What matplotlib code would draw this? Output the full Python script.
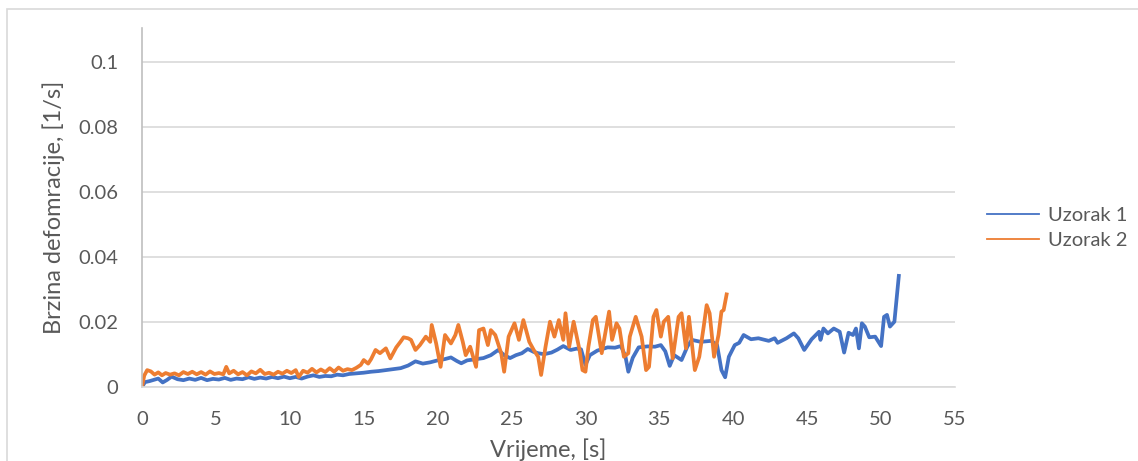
import matplotlib.pyplot as plt
from matplotlib.lines import Line2D
from matplotlib.patches import Rectangle

# ---- data ----
t1 = [0, 0.2, 0.5, 0.8, 1.1, 1.4, 1.7, 2.0, 2.4, 2.8, 3.2, 3.6, 4.0, 4.4, 4.8,
      5.2, 5.6, 6.0, 6.4, 6.8, 7.2, 7.6, 8.0, 8.4, 8.8, 9.2, 9.6, 10.0, 10.4,
      10.8, 11.2, 11.6, 12.0, 12.4, 12.8, 13.2, 13.6, 14.0, 14.5, 15.0, 15.5,
      16.0, 16.5, 17.0, 17.5, 18.0, 18.5, 19.0, 19.5, 20.0, 20.5, 20.9, 21.3,
      21.6, 22.0, 22.5, 23.1, 23.6, 24.1, 24.5, 24.9, 25.3, 25.7, 26.1, 26.5,
      26.8, 27.2, 27.7, 28.1, 28.5, 29.0, 29.4, 29.7, 30.0, 30.3, 30.8, 31.5,
      32.0, 32.4, 32.7, 32.9, 33.2, 33.6, 34.2, 34.7, 35.1, 35.4, 35.7, 36.0,
      36.5, 36.9, 37.2, 37.8, 38.5, 38.9, 39.2, 39.45, 39.7, 40.1, 40.4, 40.7,
      41.2, 41.7, 42.4, 42.8, 43.0, 43.6, 44.1, 44.4, 44.8, 45.3, 45.8, 45.9,
      46.1, 46.4, 46.8, 47.2, 47.5, 47.8, 48.1, 48.3, 48.5, 48.7, 48.9, 49.2,
      49.6, 50.0, 50.2, 50.4, 50.6, 50.9, 51.2]
v1 = [0, 0.0015, 0.0018, 0.0022, 0.0026, 0.0014, 0.0022, 0.0032, 0.0024,
      0.0021, 0.0026, 0.0022, 0.0028, 0.0021, 0.0025, 0.0023, 0.0028, 0.0022,
      0.0026, 0.0024, 0.0030, 0.0025, 0.0029, 0.0026, 0.0031, 0.0027, 0.0032,
      0.0027, 0.0031, 0.0026, 0.0032, 0.0036, 0.0031, 0.0034, 0.0033, 0.0038,
      0.0036, 0.0040, 0.0042, 0.0044, 0.0047, 0.0049, 0.0052, 0.0055, 0.0058,
      0.0066, 0.0079, 0.0072, 0.0076, 0.0082, 0.0086, 0.0091, 0.0080, 0.0073,
      0.0082, 0.0085, 0.0089, 0.0098, 0.0114, 0.0098, 0.0089, 0.0098, 0.0104,
      0.0117, 0.0108, 0.0104, 0.0101, 0.0106, 0.0115, 0.0126, 0.0114, 0.0118,
      0.0116, 0.0068, 0.0098, 0.0112, 0.0122, 0.0121, 0.0126, 0.0095, 0.0047,
      0.0090, 0.0122, 0.0125, 0.0124, 0.0129, 0.0110, 0.0065, 0.0098, 0.0083,
      0.0125, 0.0145, 0.0139, 0.0142, 0.0130, 0.0052, 0.0030, 0.0093, 0.0129,
      0.0136, 0.0160, 0.0147, 0.0150, 0.0142, 0.0150, 0.0136, 0.0150, 0.0165,
      0.0150, 0.0114, 0.0147, 0.0170, 0.0145, 0.0180, 0.0165, 0.0180, 0.0170,
      0.0106, 0.0167, 0.0160, 0.0180, 0.0119, 0.0196, 0.0186, 0.0153, 0.0155,
      0.0126, 0.0216, 0.0222, 0.0186, 0.0201, 0.0342]

t2 = [0, 0.15, 0.35, 0.6, 0.85, 1.1, 1.35, 1.6, 1.9, 2.2, 2.5, 2.8, 3.1, 3.4,
      3.7, 4.0, 4.3, 4.6, 4.9, 5.2, 5.5, 5.7, 5.9, 6.2, 6.5, 6.8, 7.1, 7.4,
      7.7, 8.0, 8.3, 8.6, 8.9, 9.2, 9.5, 9.8, 10.1, 10.4, 10.6, 10.9, 11.2,
      11.5, 11.8, 12.1, 12.4, 12.7, 13.0, 13.3, 13.6, 13.9, 14.2, 14.5, 14.8,
      15.0, 15.3, 15.5, 15.8, 16.1, 16.5, 16.8, 17.2, 17.5, 17.7, 18.0, 18.2,
      18.5, 18.8, 19.2, 19.5, 19.6, 19.9, 20.2, 20.5, 20.9, 21.2, 21.4, 21.7,
      21.9, 22.2, 22.6, 22.8, 23.1, 23.4, 23.6, 23.9, 24.3, 24.5, 24.8, 25.2,
      25.5, 25.8, 26.2, 26.5, 26.8, 27.0, 27.3, 27.6, 27.9, 28.2, 28.5, 28.65,
      28.9, 29.2, 29.6, 29.8, 30.0, 30.2, 30.5, 30.7, 31.1, 31.3, 31.6, 31.8,
      32.1, 32.3, 32.6, 32.9, 33.0, 33.4, 33.8, 34.1, 34.3, 34.6, 34.8, 35.1,
      35.3, 35.6, 35.9, 36.3, 36.5, 36.8, 37.0, 37.4, 37.7, 38.0, 38.2, 38.4,
      38.7, 39.0, 39.2, 39.35, 39.55]
v2 = [0, 0.0035, 0.0052, 0.0048, 0.0038, 0.0045, 0.0036, 0.0043, 0.0038,
      0.0042, 0.0036, 0.0046, 0.0040, 0.0047, 0.0039, 0.0046, 0.0038, 0.0048,
      0.0040, 0.0043, 0.0039, 0.0062, 0.0042, 0.0050, 0.0039, 0.0046, 0.0036,
      0.0048, 0.0042, 0.0053, 0.0040, 0.0044, 0.0038, 0.0047, 0.0041, 0.0050,
      0.0043, 0.0052, 0.0031, 0.0050, 0.0044, 0.0056, 0.0045, 0.0054, 0.0046,
      0.0058, 0.0047, 0.0060, 0.0050, 0.0055, 0.0052, 0.0059, 0.0068, 0.0083,
      0.0072, 0.0086, 0.0114, 0.0104, 0.0119, 0.0088, 0.0122, 0.0140, 0.0153,
      0.0150, 0.0145, 0.0114, 0.0129, 0.0155, 0.0139, 0.0191, 0.0134, 0.0062,
      0.0160, 0.0134, 0.0160, 0.0191, 0.0139, 0.0098, 0.0124, 0.0062, 0.0175,
      0.0180, 0.0129, 0.0175, 0.0160, 0.0104, 0.0047, 0.0155, 0.0196, 0.0145,
      0.0206, 0.0139, 0.0114, 0.0093, 0.0037, 0.0124, 0.0201, 0.0155, 0.0206,
      0.0145, 0.0227, 0.0124, 0.0201, 0.0114, 0.0052, 0.0047, 0.0124, 0.0206,
      0.0216, 0.0104, 0.0155, 0.0232, 0.0145, 0.0196, 0.0180, 0.0093, 0.0104,
      0.0155, 0.0216, 0.0155, 0.0052, 0.0062, 0.0216, 0.0237, 0.0155, 0.0201,
      0.0216, 0.0088, 0.0216, 0.0227, 0.0119, 0.0216, 0.0052, 0.0093, 0.0186,
      0.0252, 0.0227, 0.0093, 0.0160, 0.0232, 0.0237, 0.0285]

x_ticks = list(range(0, 56, 5))
y_ticks = [0, 0.02, 0.04, 0.06, 0.08, 0.1]
y_tick_labels = ["0", "0.02", "0.04", "0.06", "0.08", "0.1"]
series_names = ["Uzorak 1", "Uzorak 2"]

BLUE = "#4472C4"
ORANGE = "#ED7D31"
GRID = "#d9d9d9"
TXT = "#595959"

plt.rcParams["font.family"] = ["Lato", "DejaVu Sans"]

fig = plt.figure(figsize=(11.38, 4.61), dpi=100)
W, H = 1138, 461

# outer chart border
fig.patches.append(Rectangle((7 / W, -0.1), 1.2, 1 - 9 / H + 0.1,
                             transform=fig.transFigure, fill=False,
                             edgecolor=GRID, linewidth=1.2))

ax = fig.add_axes([142 / W, 74 / H, (955 - 142) / W, (387 - 28) / H])

ax.plot(t1, v1, color=BLUE, linewidth=2.7, solid_joinstyle="round")
ax.plot(t2, v2, color=ORANGE, linewidth=2.7, solid_joinstyle="round")

ax.set_xlim(0, 55)
ax.set_ylim(0, 0.1105)
ax.set_xticks(x_ticks)
ax.set_yticks(y_ticks)
ax.set_yticklabels(y_tick_labels)
ax.tick_params(length=0, labelsize=14.5, colors=TXT)
ax.tick_params(axis="y", pad=17)
ax.tick_params(axis="x", pad=17)

ax.grid(axis="y", color=GRID, linewidth=1.2)
ax.set_axisbelow(True)
for s in ["top", "right"]:
    ax.spines[s].set_visible(False)
ax.spines["bottom"].set_color(GRID)
ax.spines["bottom"].set_linewidth(1.2)
ax.spines["left"].set_color("#bfbfbf")
ax.spines["left"].set_linewidth(1.2)

ax.set_xlabel("Vrijeme, [s]", fontsize=17, color=TXT)
ax.set_ylabel("Brzina defomracije, [1/s]", fontsize=17, color=TXT)
ax.xaxis.set_label_coords(0.5, (387 - 450) / (387 - 28), transform=ax.transAxes)
ax.xaxis.label.set_va("center")
ax.yaxis.set_label_coords((54 - 142) / (955 - 142), 0.5)
ax.yaxis.label.set_va("center")

handles = [Line2D([], [], color=BLUE, linewidth=1.3),
           Line2D([], [], color=ORANGE, linewidth=1.3)]
fig.legend(handles, series_names, loc="center left",
           bbox_to_anchor=(987 / W, 1 - 228 / H), frameon=False,
           fontsize=14.5, labelcolor=TXT, handlelength=2.6, handletextpad=0.45,
           labelspacing=0.4, borderpad=0, borderaxespad=0)

fig.savefig("out.png", dpi=100)
